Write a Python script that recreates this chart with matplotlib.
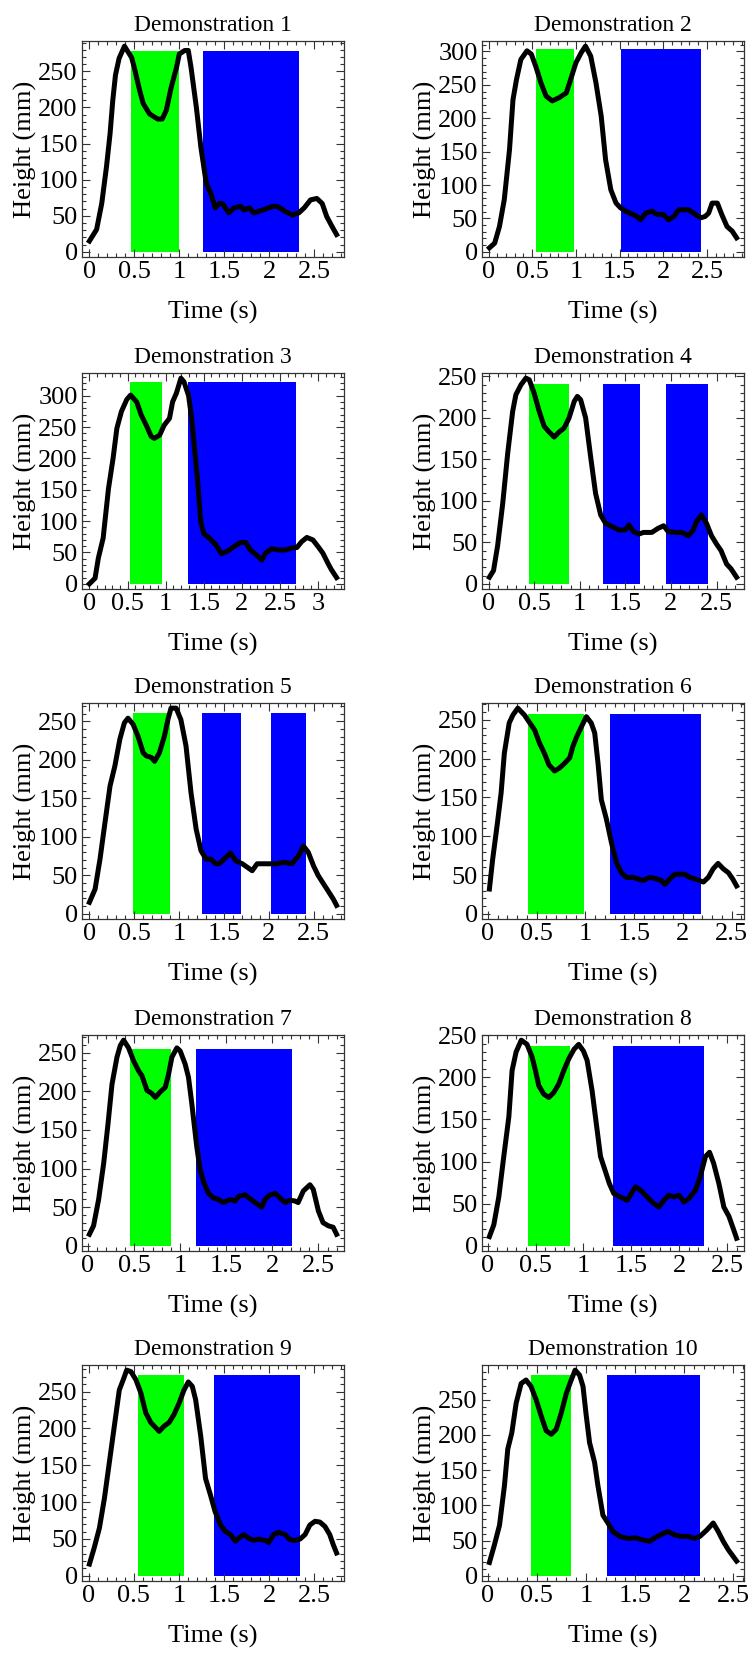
import matplotlib
matplotlib.use("Agg")
import matplotlib.pyplot as plt
from matplotlib.ticker import MultipleLocator, FuncFormatter

plt.rcParams["font.family"] = ["Liberation Serif", "DejaVu Serif"]

# ---- data (time in s, height in mm) ----
t1 = [0, 0.08, 0.137, 0.19, 0.23, 0.26, 0.29, 0.33, 0.39, 0.47, 0.5, 0.56, 0.6, 0.67, 0.76, 0.81, 0.855,
      0.91, 0.97, 1.0, 1.06, 1.1, 1.13, 1.19, 1.24, 1.3, 1.35, 1.4, 1.445, 1.48, 1.55, 1.61, 1.685,
      1.72, 1.78, 1.83, 1.93, 2.04, 2.09, 2.18, 2.26, 2.33, 2.39, 2.46, 2.53, 2.59, 2.64, 2.7, 2.75]
h1 = [15, 31, 67, 118, 164, 210, 245, 268, 285, 269, 255, 223, 205, 191, 184, 184, 196,
      228, 256, 274, 279, 279, 256, 200, 145, 95, 81, 61, 67, 67, 54, 61, 63,
      58, 61, 54, 58, 63, 63, 56, 51, 54, 61, 72, 74, 67, 49, 35, 24]

t2 = [0.01, 0.07, 0.125, 0.18, 0.24, 0.28, 0.32, 0.37, 0.44, 0.49, 0.54, 0.6, 0.66, 0.73, 0.81, 0.89,
      0.94, 1.0, 1.06, 1.11, 1.17, 1.23, 1.29, 1.34, 1.4, 1.46, 1.51, 1.57, 1.65, 1.7, 1.74, 1.8,
      1.87, 1.93, 2.0, 2.06, 2.12, 2.18, 2.29, 2.37, 2.43, 2.48, 2.52, 2.56, 2.62, 2.67, 2.73, 2.79, 2.84]
h2 = [6, 13, 38, 78, 153, 228, 258, 288, 301, 296, 278, 253, 233, 226, 231, 238,
      258, 283, 298, 308, 293, 253, 203, 138, 93, 73, 66, 61, 56, 53, 48, 58,
      61, 56, 56, 48, 53, 63, 63, 56, 51, 53, 58, 73, 73, 56, 38, 31, 21]

t3 = [0, 0.074, 0.117, 0.18, 0.25, 0.31, 0.36, 0.42, 0.49, 0.54, 0.62, 0.68, 0.745, 0.81, 0.85, 0.92,
      0.98, 1.05, 1.09, 1.14, 1.2, 1.24, 1.3, 1.34, 1.37, 1.42, 1.46, 1.5, 1.57, 1.66, 1.73, 1.81,
      1.89, 1.98, 2.05, 2.11, 2.18, 2.26, 2.31, 2.39, 2.48, 2.57, 2.65, 2.72, 2.78, 2.85, 2.93, 3.0,
      3.06, 3.13, 3.17, 3.24]
h3 = [0, 9, 41, 73, 152, 200, 248, 275, 294, 301, 290, 269, 253, 235, 232, 237,
      253, 264, 290, 304, 328, 322, 300, 264, 226, 162, 98, 80, 73, 62, 48, 52,
      59, 66, 66, 54, 47, 38, 49, 56, 54, 54, 57, 58, 67, 74, 70, 59,
      49, 32, 23, 10]

t4 = [0.01, 0.055, 0.1, 0.156, 0.21, 0.265, 0.3, 0.356, 0.41, 0.447, 0.5, 0.556, 0.61, 0.665, 0.72,
      0.774, 0.83, 0.883, 0.94, 0.974, 1.01, 1.065, 1.12, 1.174, 1.23, 1.283, 1.355, 1.43, 1.5, 1.54,
      1.59, 1.646, 1.7, 1.79, 1.86, 1.92, 1.97, 2.046, 2.12, 2.19, 2.245, 2.28, 2.336, 2.39, 2.445,
      2.5, 2.55, 2.61, 2.66, 2.72]
h4 = [8, 16, 46, 97, 157, 208, 228, 240, 248, 246, 230, 208, 190, 183, 177,
      183, 188, 200, 220, 226, 222, 200, 153, 109, 83, 73, 69, 65, 65, 71,
      63, 60, 62, 62, 67, 70, 63, 62, 62, 58, 65, 75, 83, 73, 58,
      48, 40, 24, 18, 8]

t5 = [0, 0.063, 0.118, 0.173, 0.23, 0.284, 0.34, 0.39, 0.43, 0.487, 0.54, 0.6, 0.635, 0.69, 0.727,
      0.78, 0.837, 0.875, 0.91, 0.967, 1.02, 1.077, 1.133, 1.19, 1.244, 1.3, 1.354, 1.41, 1.446, 1.52,
      1.576, 1.63, 1.705, 1.815, 1.87, 1.963, 2.09, 2.166, 2.258, 2.33, 2.387, 2.44, 2.5, 2.55, 2.61,
      2.66, 2.72, 2.756]
h5 = [15, 32, 71, 118, 166, 192, 227, 248, 254, 246, 231, 209, 205, 203, 198,
      209, 231, 252, 267, 267, 252, 218, 157, 110, 82, 71, 71, 65, 65, 73,
      79, 69, 65, 56, 65, 65, 65, 67, 65, 75, 88, 80, 62, 50, 39,
      30, 19, 11]

t6 = [0.017, 0.05, 0.1, 0.137, 0.17, 0.22, 0.257, 0.308, 0.377, 0.43, 0.48, 0.53, 0.58, 0.627, 0.685,
      0.736, 0.788, 0.84, 0.873, 0.914, 0.96, 1.01, 1.06, 1.096, 1.13, 1.164, 1.216, 1.267, 1.318, 1.37,
      1.42, 1.49, 1.54, 1.59, 1.66, 1.73, 1.78, 1.815, 1.866, 1.918, 2.02, 2.07, 2.123, 2.21, 2.26,
      2.31, 2.36, 2.414, 2.466, 2.51, 2.55]
h6 = [32, 70, 118, 156, 207, 246, 256, 265, 256, 246, 237, 220, 207, 192, 184,
      188, 194, 201, 216, 229, 241, 254, 246, 233, 194, 147, 122, 92, 66, 53,
      47, 47, 45, 43, 47, 45, 43, 38, 45, 51, 51, 47, 45, 41, 47,
      58, 65, 58, 53, 45, 36]

t7 = [0.015, 0.06, 0.115, 0.17, 0.217, 0.26, 0.314, 0.35, 0.386, 0.44, 0.495, 0.55, 0.585, 0.64, 0.693,
      0.73, 0.783, 0.838, 0.874, 0.91, 0.964, 1.0, 1.054, 1.09, 1.126, 1.18, 1.217, 1.253, 1.307, 1.36,
      1.415, 1.47, 1.54, 1.596, 1.632, 1.704, 1.758, 1.812, 1.884, 1.92, 1.975, 2.03, 2.083, 2.137,
      2.19, 2.245, 2.28, 2.336, 2.408, 2.444, 2.5, 2.55, 2.606, 2.66, 2.697]
h7 = [15, 26, 60, 107, 158, 209, 244, 259, 266, 256, 239, 226, 220, 201, 197,
      192, 199, 205, 222, 244, 256, 252, 235, 218, 184, 128, 98, 83, 68, 62,
      60, 56, 60, 58, 64, 66, 61, 56, 50, 60, 66, 68, 62, 56,
      59, 58, 56, 71, 79, 73, 45, 30, 26, 24, 15]

t8 = [0.017, 0.063, 0.115, 0.167, 0.22, 0.254, 0.296, 0.35, 0.41, 0.463, 0.498, 0.533, 0.585, 0.638,
      0.69, 0.742, 0.794, 0.847, 0.9, 0.95, 1.0, 1.038, 1.09, 1.143, 1.178, 1.23, 1.27, 1.317, 1.387,
      1.456, 1.544, 1.596, 1.648, 1.718, 1.787, 1.84, 1.892, 1.944, 2.0, 2.05, 2.1, 2.17, 2.22, 2.275,
      2.317, 2.36, 2.415, 2.467, 2.52, 2.57, 2.6]
h8 = [11, 25, 58, 106, 153, 208, 230, 244, 239, 224, 208, 190, 180, 176,
      182, 192, 208, 222, 233, 239, 231, 220, 184, 137, 106, 88, 74, 62, 58,
      54, 70, 66, 60, 52, 46, 54, 60, 58, 60, 52, 56, 66, 82, 106,
      111, 98, 74, 46, 35, 19, 9]

t9 = [0.007, 0.06, 0.118, 0.173, 0.228, 0.283, 0.338, 0.382, 0.42, 0.467, 0.522, 0.577, 0.632, 0.687,
      0.742, 0.78, 0.834, 0.89, 0.945, 1.0, 1.055, 1.103, 1.147, 1.184, 1.24, 1.294, 1.35, 1.4, 1.46,
      1.515, 1.57, 1.625, 1.66, 1.717, 1.772, 1.827, 1.882, 1.956, 1.993, 2.048, 2.1, 2.176, 2.23,
      2.287, 2.342, 2.397, 2.45, 2.507, 2.56, 2.617, 2.67, 2.71, 2.746]
h9 = [16, 38, 65, 105, 154, 203, 252, 266, 279, 277, 266, 248, 221, 208,
      201, 196, 203, 208, 219, 234, 252, 263, 257, 239, 190, 132, 109, 87, 69,
      60, 56, 47, 51, 56, 51, 48, 50, 48, 45, 56, 59, 56, 49,
      48, 50, 56, 69, 74, 73, 67, 56, 42, 31]

t10 = [0.017, 0.068, 0.12, 0.17, 0.204, 0.245, 0.289, 0.34, 0.39, 0.44, 0.493, 0.544, 0.595, 0.646,
       0.697, 0.748, 0.8, 0.85, 0.89, 0.935, 0.97, 1.0, 1.037, 1.088, 1.122, 1.173, 1.224, 1.275, 1.343,
       1.43, 1.5, 1.58, 1.65, 1.7, 1.77, 1.837, 1.905, 1.973, 2.04, 2.11, 2.16, 2.23, 2.296, 2.347,
       2.398, 2.45, 2.534]
h10 = [19, 44, 72, 128, 180, 203, 245, 273, 278, 269, 250, 227, 206, 201,
       208, 231, 259, 278, 292, 285, 269, 231, 189, 161, 128, 86, 75, 63, 56,
       53, 54, 51, 49, 54, 59, 63, 58, 56, 56, 53, 56, 65, 75, 63,
       49, 37, 21]

times = [t1, t2, t3, t4, t5, t6, t7, t8, t9, t10]
heights = [h1, h2, h3, h4, h5, h6, h7, h8, h9, h10]

# highlighted phases (start, end) and the height the bars reach
green_spans = [(0.46, 1.0), (0.544, 0.981), (0.529, 0.954), (0.447, 0.883), (0.487, 0.893),
               (0.41, 0.983), (0.45, 0.9), (0.42, 0.857), (0.548, 1.055), (0.442, 0.85)]
blue_spans = [[(1.268, 2.33)], [(1.513, 2.433)], [(1.296, 2.709)],
              [(1.257, 1.657), (1.944, 2.41)], [(1.25, 1.686), (2.026, 2.413)],
              [(1.25, 2.185)], [(1.17, 2.21)], [(1.31, 2.258)], [(1.386, 2.342)], [(1.21, 2.16)]]
span_tops = [278, 303, 322, 241, 261, 258, 255, 237, 272, 285]

# ---- layout (figure pixels: left, top, width, height) ----
W, H = 750, 1657
col_left = [82, 482]
row_top = [41, 373, 703, 1035, 1365]
ax_w, ax_h = 262, 216

fig = plt.figure(figsize=(W / 100, H / 100), dpi=100)


def fmt(v, pos):
    return f"{v:g}"


for i in range(10):
    r, c = divmod(i, 2)
    left = col_left[c] / W
    bottom = 1 - (row_top[r] + ax_h) / H
    ax = fig.add_axes([left, bottom, ax_w / W, ax_h / H])

    g0, g1 = green_spans[i]
    ax.fill_between([g0, g1], 0, span_tops[i], color="#00ff00", lw=0)
    for b0, b1 in blue_spans[i]:
        ax.fill_between([b0, b1], 0, span_tops[i], color="#0000ff", lw=0)
    ax.plot(times[i], heights[i], color="black", lw=3.6, solid_joinstyle="round")

    ax.margins(x=0.03, y=0.025)
    ax.xaxis.set_major_locator(MultipleLocator(0.5))
    ax.xaxis.set_minor_locator(MultipleLocator(0.1))
    ax.yaxis.set_major_locator(MultipleLocator(50))
    ax.yaxis.set_minor_locator(MultipleLocator(10))
    ax.xaxis.set_major_formatter(FuncFormatter(fmt))
    ax.tick_params(which="both", direction="in", top=True, right=True,
                   labelsize=19, pad=3, width=0.8, color="0.2")
    ax.tick_params(which="major", length=6)
    ax.tick_params(which="minor", length=3)
    for s in ax.spines.values():
        s.set_linewidth(0.9)
        s.set_color("0.2")

    ax.set_title(f"Demonstration {i + 1}", fontsize=17, pad=7)
    ax.set_xlabel("Time (s)", fontsize=19, labelpad=13)
    ax.set_ylabel("Height (mm)", fontsize=19, labelpad=1)

fig.savefig("out.png", dpi=100)
